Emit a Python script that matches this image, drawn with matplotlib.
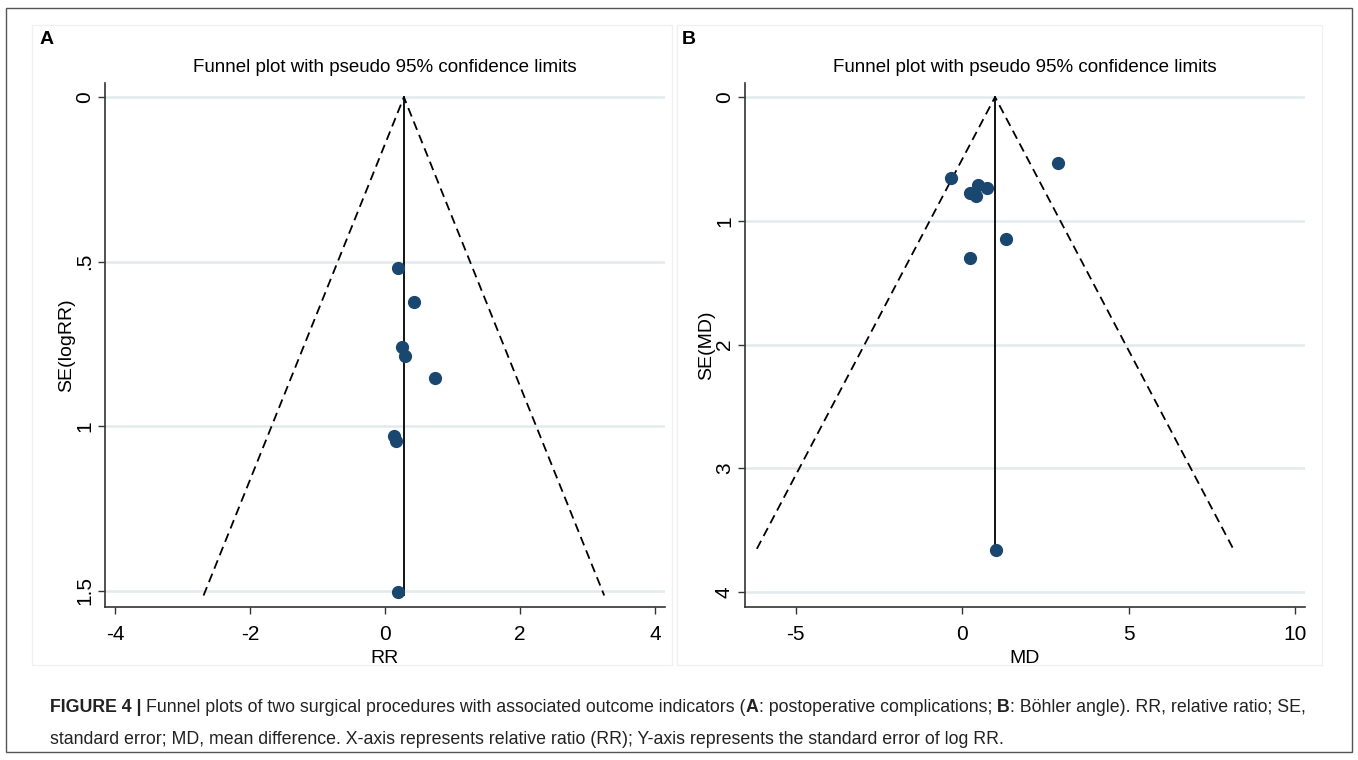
import matplotlib
matplotlib.use("Agg")
import matplotlib.pyplot as plt
from matplotlib import font_manager
from matplotlib.patches import Rectangle

# pick a condensed sans if there is one
names = {f.name for f in font_manager.fontManager.ttflist}
narrow = "Liberation Sans Narrow" if "Liberation Sans Narrow" in names else "Liberation Sans"
plt.rcParams["font.family"] = [narrow, "DejaVu Sans"]
plt.rcParams["axes.unicode_minus"] = False

# ---- data ----
# panel A: postoperative complications
rr = [0.19, 0.43, 0.25, 0.30, 0.74, 0.13, 0.17, 0.20]
se_rr = [0.519, 0.624, 0.761, 0.787, 0.853, 1.030, 1.045, 1.503]
pooled_rr = 0.28
se_max_rr = 1.515

# panel B: Bohler angle
md = [-0.33, 0.24, 0.47, 0.42, 0.74, 2.87, 1.32, 0.24, 1.02]
se_md = [0.656, 0.777, 0.715, 0.796, 0.737, 0.53, 1.15, 1.30, 3.66]
pooled_md = 0.99
se_max_md = 3.65

xticks_a = [-4, -2, 0, 2, 4]
yticks_a = [0, 0.5, 1, 1.5]
yticklabels_a = ["0", ".5", "1", "1.5"]
xticks_b = [-5, 0, 5, 10]
yticks_b = [0, 1, 2, 3, 4]

title = "Funnel plot with pseudo 95% confidence limits"
navy = "#1a476f"
gridc = "#e3eaed"

W, H = 1358, 760
fig = plt.figure(figsize=(W / 100, H / 100), dpi=100)


def box(x0, y0, x1, y1):
    return [x0 / W, 1 - y1 / H, (x1 - x0) / W, (y1 - y0) / H]


# outer frame and faint panel frames
fig.add_artist(Rectangle((6 / W, 1 - 752 / H), 1346 / W, 744 / H, transform=fig.transFigure,
                         fill=False, ec="#555555", lw=1.0))
for x0, x1 in [(32, 672), (677, 1322)]:
    fig.add_artist(Rectangle((x0 / W, 1 - 665 / H), (x1 - x0) / W, 640 / H, transform=fig.transFigure,
                             fill=False, ec="#f0f0f0", lw=1.0))


def funnel(ax, xs, ys, est, se_max, xlim, ylim, xt, yt, ytl, xlabel, ylabel):
    ax.set_xlim(*xlim)
    ax.set_ylim(*ylim)
    for y in yt:
        ax.axhline(y, color=gridc, lw=1.8, zorder=0)
    half = 1.96 * se_max
    ax.plot([est - half, est, est + half], [se_max, 0, se_max], color="black",
            lw=1.3, ls=(0, (5, 3)), zorder=2)
    ax.plot([est, est], [0, se_max], color="black", lw=1.3, zorder=2)
    ax.plot(xs, ys, "o", color=navy, ms=8.5, mec=navy, zorder=3)
    ax.set_xticks(xt)
    ax.set_yticks(yt)
    ax.set_yticklabels(ytl, rotation=90, va="center")
    ax.tick_params(direction="out", length=5, width=1, color="#333333", labelsize=15)
    ax.tick_params(axis="x", pad=8)
    ax.tick_params(axis="y", pad=3)
    for s in ["top", "right"]:
        ax.spines[s].set_visible(False)
    for s in ["left", "bottom"]:
        ax.spines[s].set_color("#333333")
        ax.spines[s].set_linewidth(1.2)
    ax.set_xlabel(xlabel, fontsize=14, labelpad=4)
    ax.set_ylabel(ylabel, fontsize=14, labelpad=0)
    ax.set_title(title, fontsize=13.5, pad=8)


axA = fig.add_axes(box(105, 83, 665, 607))
funnel(axA, rr, se_rr, pooled_rr, se_max_rr, (-4.15, 4.15), (1.55, -0.043),
       xticks_a, yticks_a, yticklabels_a, "RR", "SE(logRR)")

axB = fig.add_axes(box(745, 83, 1305, 607))
funnel(axB, md, se_md, pooled_md, se_max_md, (-6.52, 10.3), (4.12, -0.113),
       xticks_b, yticks_b, [str(v) for v in yticks_b], "MD", "SE(MD)")

fig.text(40 / W, 1 - 40 / H, "A", fontsize=14, weight="bold", family="Liberation Sans", va="center")
fig.text(682 / W, 1 - 40 / H, "B", fontsize=14, weight="bold", family="Liberation Sans", va="center")

# caption with bold bits
line1 = [("FIGURE 4 | ", "bold"), ("Funnel plots of two surgical procedures with associated outcome indicators (", "normal"),
         ("A", "bold"), (": postoperative complications; ", "normal"), ("B", "bold"),
         (": Böhler angle). RR, relative ratio; SE,", "normal")]
line2 = [("standard error; MD, mean difference. X-axis represents relative ratio (RR); Y-axis represents the standard error of log RR.", "normal")]

fig.canvas.draw()
r = fig.canvas.get_renderer()
for parts, ypx in [(line1, 708), (line2, 739)]:
    x = 50
    for txt, wt in parts:
        t = fig.text(x / W, 1 - ypx / H, txt, fontsize=12.8, weight=wt, color="#222222",
                     family="Liberation Sans", va="center")
        x += t.get_window_extent(r).width

fig.savefig("out.png", dpi=100)
